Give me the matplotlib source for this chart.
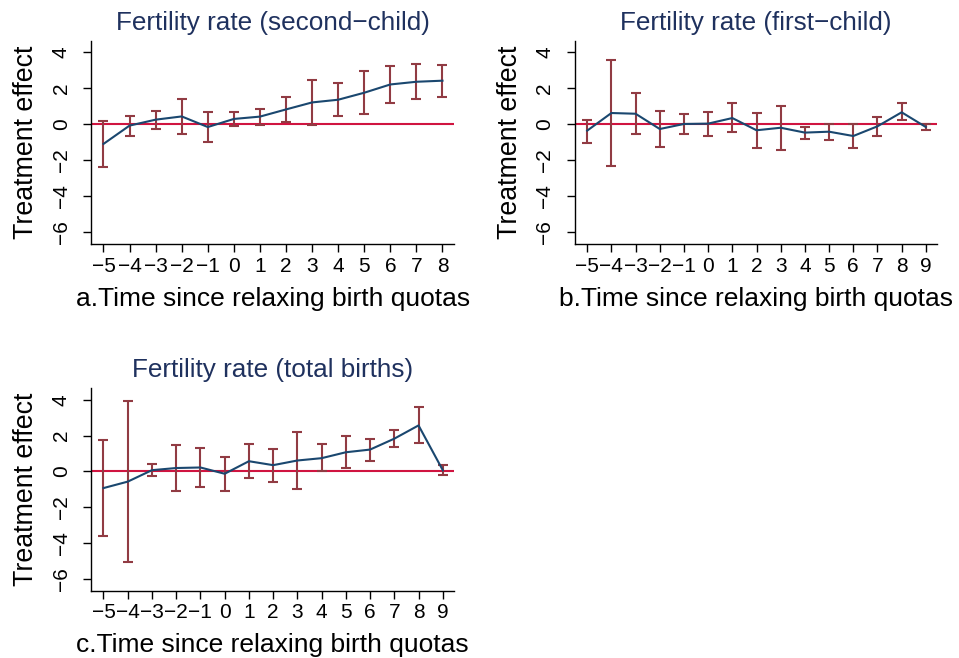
import numpy as np
import matplotlib
matplotlib.use("Agg")
import matplotlib.pyplot as plt

plt.rcParams["font.family"] = ["Liberation Sans", "DejaVu Sans"]

# event-study estimates with 95% CI bounds
t_a = [-5, -4, -3, -2, -1, 0, 1, 2, 3, 4, 5, 6, 7, 8]
coef_a = [-1.09, -0.07, 0.26, 0.44, -0.15, 0.30, 0.43, 0.83, 1.22, 1.37, 1.76, 2.22, 2.37, 2.43]
hi_a = [0.20, 0.48, 0.76, 1.43, 0.67, 0.67, 0.85, 1.54, 2.48, 2.30, 2.98, 3.26, 3.35, 3.33]
lo_a = [-2.39, -0.65, -0.24, -0.52, -0.98, -0.09, -0.04, 0.13, -0.04, 0.48, 0.56, 1.19, 1.41, 1.54]

t_b = [-5, -4, -3, -2, -1, 0, 1, 2, 3, 4, 5, 6, 7, 8, 9]
coef_b = [-0.35, 0.63, 0.59, -0.26, 0.02, 0.04, 0.35, -0.33, -0.19, -0.46, -0.41, -0.65, -0.11, 0.67, -0.15]
hi_b = [0.26, 3.57, 1.74, 0.76, 0.59, 0.70, 1.17, 0.63, 1.02, -0.13, 0.02, 0.00, 0.43, 1.17, 0.00]
lo_b = [-1.04, -2.31, -0.52, -1.26, -0.54, -0.63, -0.41, -1.31, -1.41, -0.81, -0.85, -1.30, -0.63, 0.22, -0.33]

t_c = [-5, -4, -3, -2, -1, 0, 1, 2, 3, 4, 5, 6, 7, 8, 9]
coef_c = [-0.93, -0.57, 0.07, 0.19, 0.22, -0.13, 0.57, 0.35, 0.61, 0.74, 1.07, 1.22, 1.83, 2.57, 0.07]
hi_c = [1.74, 3.91, 0.39, 1.48, 1.33, 0.80, 1.54, 1.28, 2.20, 1.52, 1.96, 1.83, 2.31, 3.61, 0.37]
lo_c = [-3.59, -5.06, -0.26, -1.07, -0.87, -1.07, -0.39, -0.61, -1.00, 0.00, 0.19, 0.61, 1.35, 1.61, -0.22]

titles = ["Fertility rate (second\u2212child)", "Fertility rate (first\u2212child)",
          "Fertility rate (total births)"]
xlabels = ["a.Time since relaxing birth quotas", "b.Time since relaxing birth quotas",
           "c.Time since relaxing birth quotas"]
yticks = [-6, -4, -2, 0, 2, 4]

NAVY = "#1a476f"
MAROON = "#913b43"
RED = "#d01440"
TITLE = "#1f315e"

fig = plt.figure(figsize=(9.59, 6.58), dpi=100)
boxes = [
    [0.0952, 0.6287, 0.3782, 0.3090],
    [0.5996, 0.6287, 0.3778, 0.3090],
    [0.0952, 0.1018, 0.3785, 0.3080],
]
panels = [(t_a, coef_a, hi_a, lo_a), (t_b, coef_b, hi_b, lo_b), (t_c, coef_c, hi_c, lo_c)]

for box, (t, c, hi, lo), title, xl in zip(boxes, panels, titles, xlabels):
    ax = fig.add_axes(box)
    t = np.array(t)
    c = np.array(c)
    hi = np.array(hi)
    lo = np.array(lo)
    ax.axhline(0, color=RED, lw=1.5, zorder=1)
    ax.errorbar(t, c, yerr=[c - lo, hi - c], fmt="none", ecolor=MAROON,
                elinewidth=1.5, capsize=3.5, capthick=1.5, zorder=2)
    ax.plot(t, c, color=NAVY, lw=1.5, zorder=3)

    step = 26.08 if len(t) == 14 else 24.23
    ax.set_xlim(t[0] - 12.2 / step, t[-1] + 11.5 / step)
    ax.set_ylim(-6.68, 4.64)
    ax.set_xticks(t)
    ax.set_xticklabels([str(v).replace("-", "\u2212") for v in t])
    ax.set_yticks(yticks)
    ax.set_yticklabels([str(v).replace("-", "\u2212") for v in yticks],
                       rotation=90, va="center")
    for s in ["top", "right"]:
        ax.spines[s].set_visible(False)
    for s in ["left", "bottom"]:
        ax.spines[s].set_linewidth(1.0)
    ax.tick_params(direction="out", length=5.8, width=1.0, labelsize=15)
    ax.tick_params(axis="x", pad=3)
    ax.tick_params(axis="y", pad=9)
    ax.set_title(title, color=TITLE, fontsize=18.8, pad=8)
    ax.set_xlabel(xl, fontsize=19, labelpad=8)
    ax.set_ylabel("Treatment effect", fontsize=19.3)
    ax.yaxis.set_label_coords(-0.143, 0.5)

fig.savefig("out.png", dpi=100)
